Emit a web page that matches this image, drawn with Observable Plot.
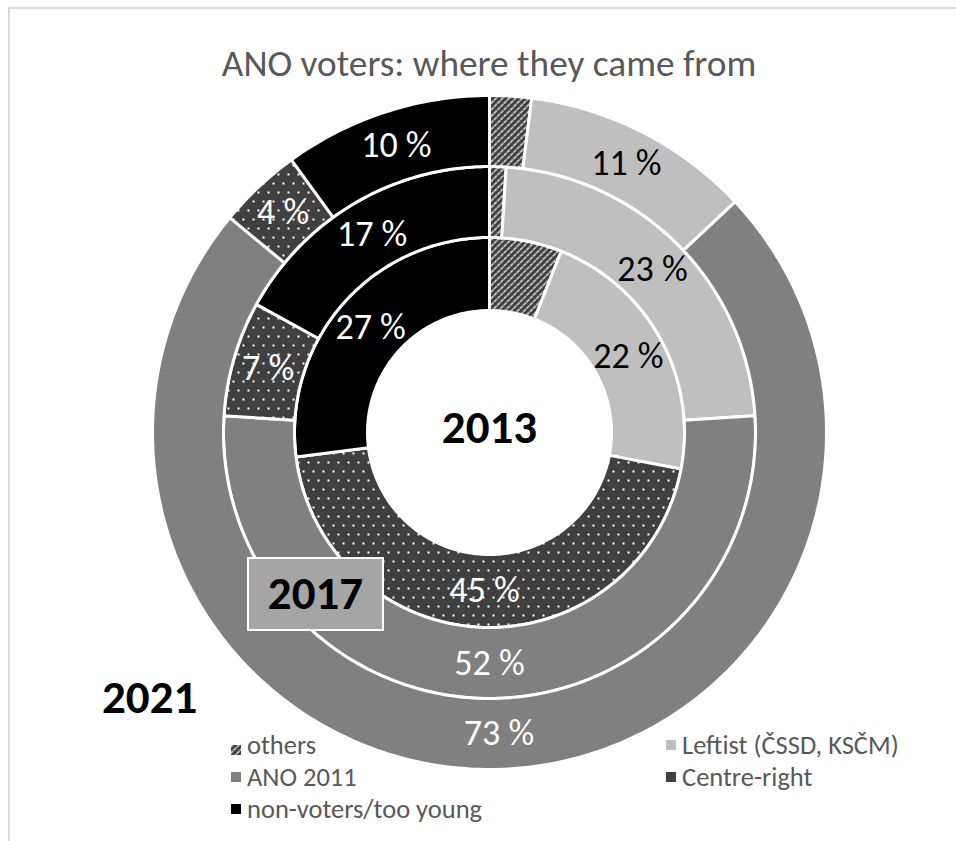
<!DOCTYPE html>
<html><head><meta charset="utf-8">
<script src="https://cdn.jsdelivr.net/npm/d3@7"></script>
<script src="https://cdn.jsdelivr.net/npm/@observablehq/plot@0.6"></script>
<style>
body{margin:0;background:#fff;}
#wrap{position:relative;width:956px;height:841px;overflow:hidden;font-family:Carlito,Calibri,sans-serif;}
#frame{position:absolute;left:8px;top:7px;width:1000px;height:900px;border-left:2px solid #d9d9d9;border-top:2px solid #d9d9d9;box-sizing:border-box;}
#plot{position:absolute;left:0;top:0;}
#title{position:absolute;left:0;width:978px;top:41px;text-align:center;font-size:37.3px;color:#595959;line-height:44px;}
.yr{position:absolute;font-weight:bold;font-size:47px;color:#000;line-height:52px;}
#box2017{position:absolute;left:247px;top:557px;width:137px;height:74px;box-sizing:border-box;border:2px solid #fff;background:#a5a5a5;}
.leg{position:absolute;font-size:26.5px;color:#595959;line-height:28px;white-space:nowrap;}
.sw{position:absolute;width:10px;height:10px;}
</style></head><body>
<svg width="0" height="0" style="position:absolute">
 <defs>
  <pattern id="hatch" width="4.6" height="4.6" patternUnits="userSpaceOnUse" patternTransform="rotate(45)">
   <rect width="4.6" height="4.6" fill="#404040"/>
   <line x1="1" y1="0" x2="1" y2="4.6" stroke="#e0e0e0" stroke-width="1.5" stroke-dasharray="2.3 0.8"/>
  </pattern>
  <pattern id="dots" width="10" height="18" patternUnits="userSpaceOnUse">
   <rect width="10" height="18" fill="#404040"/>
   <rect x="2" y="2" width="2" height="2" fill="#fff"/>
   <rect x="7" y="11" width="2" height="2" fill="#fff"/>
  </pattern>
 </defs>
</svg>
<div id="wrap">
 <div id="frame"></div>
 <div id="plot"></div>
 <div id="title">ANO voters: where they came from</div>
 <div id="box2017"></div>
 <div class="yr" id="y2017" style="left:247px;width:137px;text-align:center;top:567px;">2017</div>
 <div class="yr" id="y2021" style="left:102px;top:671px;">2021</div>
 <div id="legend"></div>
</div>
<script>
// ---- data ----
const categories = ["others", "Leftist (ČSSD, KSČM)", "ANO 2011", "Centre-right", "non-voters/too young"];
const years = ["2013", "2017", "2021"];
const share2013 = [6, 22, 0, 45, 27];
const share2017 = [1, 23, 52, 7, 17];
const share2021 = [2, 11, 73, 4, 10];

// ---- styles ----
const fills = ["url(#hatch)", "#bfbfbf", "#808080", "url(#dots)", "#000000"];
const swatch = ["url(#hatch)", "#bfbfbf", "#808080", "#404040", "#000000"];
const labelColor = ["white", "black", "white", "white", "white"];
const rings = [
  {year: years[0], values: share2013, r0: 122, r1: 195},
  {year: years[1], values: share2017, r0: 195, r1: 266},
  {year: years[2], values: share2021, r0: 266, r1: 337}
];

const segments = [];
const labels = [];
for (const ring of rings) {
  const total = d3.sum(ring.values);
  let cum = 0;
  ring.values.forEach((v, i) => {
    if (v > 0) {
      const a0 = cum / total * 2 * Math.PI, a1 = (cum + v) / total * 2 * Math.PI;
      const n = Math.max(2, Math.ceil((a1 - a0) / (Math.PI / 180)));
      const pts = [];
      for (let k = 0; k <= n; k++) { const a = a0 + (a1 - a0) * k / n; pts.push({x: ring.r1 * Math.sin(a), y: ring.r1 * Math.cos(a)}); }
      for (let k = n; k >= 0; k--) { const a = a0 + (a1 - a0) * k / n; pts.push({x: ring.r0 * Math.sin(a), y: ring.r0 * Math.cos(a)}); }
      segments.push({pts, fill: fills[i]});
      if (i > 0) {
        const am = (a0 + a1) / 2, rm = (ring.r0 + ring.r1) / 2;
        labels.push({x: rm * Math.sin(am), y: rm * Math.cos(am), t: v + " %", c: labelColor[i]});
      }
    }
    cum += v;
  });
}

const marks = segments.map(s => Plot.line(s.pts, {x: "x", y: "y", curve: "linear-closed", fill: s.fill, stroke: "white", strokeWidth: 3, strokeLinejoin: "round"}));
marks.push(Plot.text(labels, {x: "x", y: "y", text: "t", fill: "c", fontSize: 36}));
marks.push(Plot.text([years[0]], {x: () => 0, y: () => 0, text: d => d, fontSize: 47, fontWeight: "bold", fill: "black", dy: -5}));

const chart = Plot.plot({
  width: 956, height: 841, margin: 0,
  x: {domain: [-489, 467], axis: null},
  y: {domain: [-409, 432], axis: null},
  color: {type: "identity"},
  style: {fontFamily: "Carlito, Calibri, sans-serif", background: "transparent", overflow: "visible"},
  marks
});
document.getElementById("plot").appendChild(chart);

// legend
const legPos = [[231, 745], [666, 745], [231, 777], [666, 777], [231, 809]];
const leg = document.getElementById("legend");
categories.forEach((c, i) => {
  const [x, y] = legPos[i];
  const sw = document.createElement("div");
  sw.className = "sw";
  sw.style.left = x + "px"; sw.style.top = (y - 5) + "px";
  if (swatch[i].startsWith("url")) {
    sw.innerHTML = `<svg width="10" height="10"><rect width="10" height="10" fill="${swatch[i]}"/></svg>`;
  } else sw.style.background = swatch[i];
  leg.appendChild(sw);
  const t = document.createElement("div");
  t.className = "leg";
  t.style.left = (x + 16) + "px"; t.style.top = (y - 14) + "px";
  t.textContent = c;
  leg.appendChild(t);
});
</script></body></html>
